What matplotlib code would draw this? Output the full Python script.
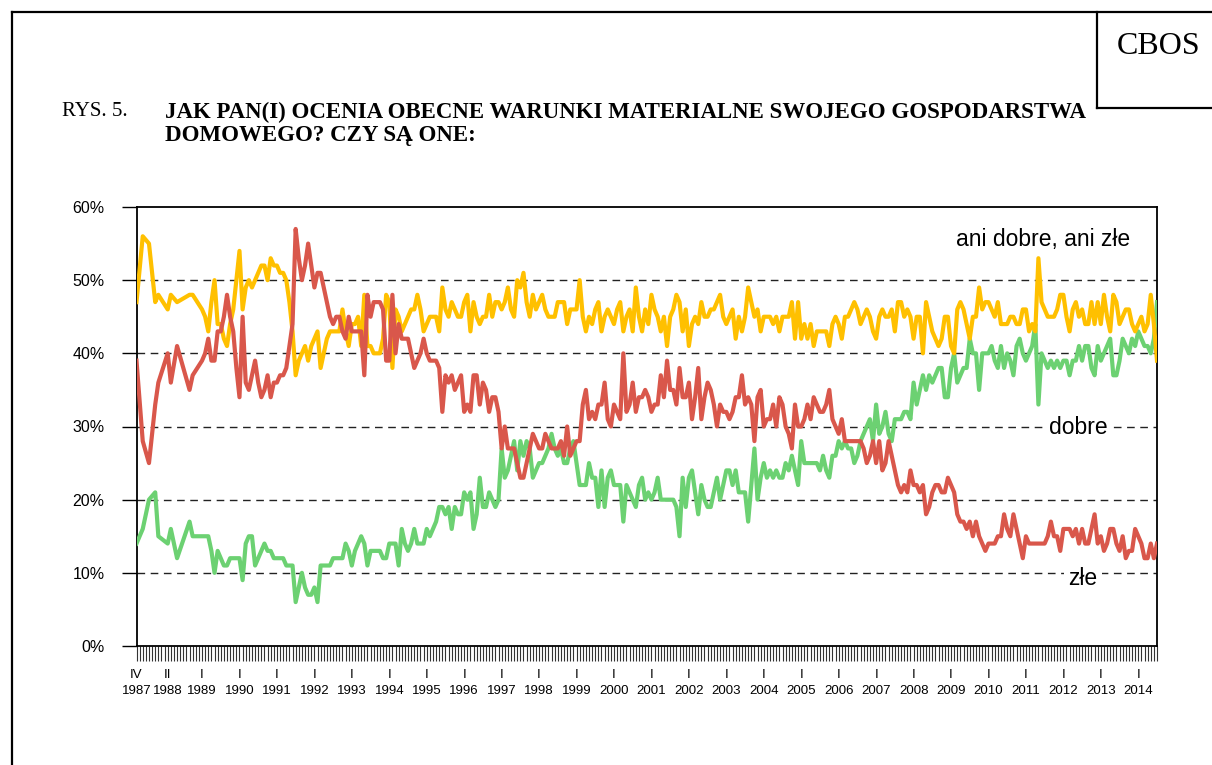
#!/usr/bin/env python3
"""
CBOS, Rys. 5: ocena warunkow materialnych gospodarstwa domowego, 1987-2014
"""

import matplotlib.pyplot as plt
from matplotlib.lines import Line2D
from matplotlib.ticker import FixedLocator, NullFormatter
from matplotlib import transforms

plt.rcParams['font.family'] = ['Liberation Sans', 'DejaVu Sans']

W, H = 1212, 765

# survey months, counted from April 1987 (irregular before 1989, then monthly)
months = [0, 2, 4, 6, 7, 10, 11, 13, 17, 18] + list(range(21, 328))

ani = [47, 56, 55, 47, 48, 46, 48, 47, 48, 48,
       46, 45, 43, 47, 50, 44, 44, 42, 41, 44, 46, 50, 54, 46, 49, 50, 49, 50, 51, 52, 52,
       50, 53, 52, 52, 51, 51, 50, 47, 43, 37,
       39, 40, 41, 39, 41, 42, 43, 38, 40, 42,
       43, 43, 43, 43, 46, 43, 41, 44, 44, 45,
       41, 48, 41, 41, 40, 40, 40, 42, 48, 47,
       38, 46, 45, 43, 44, 45, 46, 46, 48, 46,
       43, 44, 45, 45, 45, 43, 49, 46, 45, 47,
       46, 45, 45, 47, 48, 43, 47, 45, 44, 45,
       45, 48, 45, 47, 47, 46, 47, 49, 46, 45,
       50, 49, 51, 47, 45, 48, 46, 47, 48, 46,
       45, 45, 45, 47, 47, 47, 44, 46, 46, 46,
       50, 45, 43, 45, 44, 46, 47, 43, 45, 46,
       45, 44, 46, 47, 43, 45, 46, 43, 49, 45,
       43, 46, 44, 48, 46, 45, 43, 45, 41, 45,
       46, 48, 47, 43, 46, 41, 44, 45, 44, 47,
       45, 45, 46, 46, 47, 48, 45, 44, 45, 46,
       42, 45, 43, 45, 49, 47, 45, 46, 43, 45,
       45, 45, 44, 45, 43, 45, 45, 45, 47, 42,
       47, 42, 44, 42, 44, 41, 43, 43, 43, 43,
       41, 44, 45, 44, 42, 45, 45, 46, 47, 46,
       44, 45, 46, 45, 43, 42, 45, 46, 45, 45,
       46, 43, 47, 47, 45, 46, 45, 42, 45, 45,
       40, 47, 45, 43, 42, 41, 42, 45, 45, 41,
       40, 46, 47, 46, 44, 42, 45, 45, 49, 46,
       47, 47, 46, 45, 47, 44, 44, 44, 45, 45,
       44, 44, 46, 46, 43, 44, 43, 53, 47, 46,
       45, 45, 45, 46, 48, 48, 45, 43, 46, 47,
       45, 46, 44, 44, 47, 44, 47, 44, 48, 45,
       43, 48, 47, 44, 45, 46, 46, 44, 43, 44,
       45, 43, 44, 48, 44, 39]

zle = [39, 28, 25, 33, 36, 40, 36, 41, 35, 37,
       39, 40, 42, 39, 39, 43, 43, 45, 48, 45, 43, 38, 34, 45, 36, 35, 37, 39, 36, 34, 35,
       37, 34, 36, 36, 37, 37, 38, 41, 44, 57,
       53, 50, 52, 55, 52, 49, 51, 51, 49, 47,
       45, 44, 45, 45, 43, 42, 45, 43, 43, 43,
       43, 37, 48, 45, 47, 47, 47, 46, 39, 39,
       48, 40, 44, 42, 42, 42, 40, 38, 39, 40,
       42, 40, 39, 39, 39, 38, 32, 37, 36, 37,
       35, 36, 37, 32, 33, 32, 37, 37, 33, 36,
       35, 32, 34, 34, 32, 27, 30, 27, 27, 27,
       25, 23, 23, 25, 27, 29, 28, 27, 27, 29,
       28, 27, 27, 27, 28, 26, 30, 26, 27, 28,
       28, 33, 35, 31, 32, 31, 33, 33, 36, 31,
       30, 33, 32, 31, 40, 32, 33, 36, 32, 34,
       34, 35, 34, 32, 33, 33, 37, 34, 39, 35,
       35, 33, 38, 34, 34, 36, 31, 34, 38, 31,
       34, 36, 35, 33, 30, 33, 32, 32, 31, 32,
       34, 34, 37, 33, 34, 33, 28, 34, 35, 30,
       31, 31, 33, 30, 34, 33, 30, 29, 27, 33,
       30, 30, 31, 33, 31, 34, 33, 32, 32, 33,
       35, 31, 30, 29, 31, 28, 28, 28, 28, 28,
       28, 27, 25, 26, 28, 25, 28, 24, 25, 28,
       26, 24, 22, 21, 22, 21, 24, 22, 22, 21,
       22, 18, 19, 21, 22, 22, 21, 21, 23, 22,
       21, 18, 17, 17, 16, 17, 15, 17, 15, 14,
       13, 14, 14, 14, 15, 15, 18, 16, 15, 18,
       16, 14, 12, 15, 14, 14, 14, 14, 14, 14,
       15, 17, 15, 15, 13, 16, 16, 16, 15, 16,
       14, 16, 14, 14, 16, 18, 14, 15, 13, 14,
       16, 16, 14, 13, 15, 12, 13, 13, 16, 15,
       14, 12, 12, 14, 12, 14]

dobre = [14, 16, 20, 21, 15, 14, 16, 12, 17, 15,
         15, 15, 15, 13, 10, 13, 12, 11, 11, 12, 12, 12, 12, 9, 14, 15, 15, 11, 12, 13, 14,
         13, 13, 12, 12, 12, 12, 11, 11, 11, 6,
         8, 10, 8, 7, 7, 8, 6, 11, 11, 11,
         11, 12, 12, 12, 12, 14, 13, 11, 13, 14,
         15, 14, 11, 13, 13, 13, 13, 12, 12, 14,
         14, 14, 11, 16, 14, 13, 14, 16, 14, 14,
         14, 16, 15, 16, 17, 19, 19, 18, 19, 16,
         19, 18, 18, 21, 20, 21, 16, 18, 23, 19,
         19, 21, 20, 19, 20, 27, 23, 24, 26, 28,
         24, 28, 26, 28, 27, 23, 24, 25, 25, 26,
         27, 29, 27, 26, 27, 25, 25, 27, 28, 25,
         22, 22, 22, 25, 23, 23, 19, 24, 19, 23,
         24, 22, 22, 22, 17, 22, 21, 20, 19, 22,
         23, 20, 21, 20, 21, 23, 20, 20, 20, 20,
         20, 19, 15, 23, 19, 23, 24, 21, 18, 22,
         20, 19, 19, 21, 23, 20, 22, 24, 24, 22,
         24, 21, 21, 21, 17, 22, 27, 20, 23, 25,
         23, 24, 23, 24, 23, 23, 25, 24, 26, 24,
         22, 28, 25, 25, 25, 25, 25, 24, 26, 24,
         23, 26, 26, 28, 27, 28, 27, 27, 25, 26,
         28, 29, 30, 31, 28, 33, 29, 30, 32, 29,
         28, 31, 31, 31, 32, 32, 31, 36, 33, 35,
         37, 35, 37, 36, 37, 38, 38, 34, 34, 38,
         40, 36, 37, 38, 38, 42, 40, 40, 35, 40,
         40, 40, 41, 39, 38, 41, 38, 40, 39, 37,
         41, 42, 40, 39, 40, 41, 44, 33, 40, 39,
         38, 39, 38, 39, 38, 39, 39, 37, 39, 39,
         41, 39, 41, 41, 38, 37, 41, 39, 40, 41,
         42, 37, 37, 39, 42, 41, 40, 42, 41, 43,
         42, 41, 41, 40, 42, 47]

# axis labels: month (roman) over year
label_months = [0, 10] + [21 + 12 * k for k in range(26)]
label_roman = ['IV', 'II'] + ['I'] * 26
label_years = [str(y) for y in range(1987, 2015)]

yticks = [0, 10, 20, 30, 40, 50, 60]

col_ani = '#FFC000'
col_zle = '#D9574B'
col_dobre = '#6CD172'

fig = plt.figure(figsize=(W / 100, H / 100), dpi=100)
ax = fig.add_axes([136.5 / W, 1 - 646 / H, (1157 - 136.5) / W, (646 - 207) / H])

ax.plot(months, dobre, color=col_dobre, lw=3.0, solid_joinstyle='round', zorder=3)
ax.plot(months, ani, color=col_ani, lw=3.0, solid_joinstyle='round', zorder=3)
ax.plot(months, zle, color=col_zle, lw=3.0, solid_joinstyle='round', zorder=3)

ax.set_xlim(0, 327)
ax.set_ylim(0, 60)

# dashed gridlines
for v in yticks[1:-1]:
    ax.axhline(v, color='#222222', lw=1, linestyle=(0, (5.5, 4)), zorder=1)

ax.set_yticks(yticks)
ax.set_yticklabels([f'{v}%' for v in yticks], fontsize=11.5)
ax.tick_params(axis='y', direction='out', length=11, width=1, pad=12)

ax.xaxis.set_major_locator(FixedLocator(list(range(0, 328))))
ax.xaxis.set_major_formatter(NullFormatter())
ax.tick_params(axis='x', direction='out', length=10.5, width=0.8, color='#333333')

for s in ax.spines.values():
    s.set_linewidth(1.3)

trans = transforms.blended_transform_factory(ax.transData, fig.transFigure)
for m, r, y in zip(label_months, label_roman, label_years):
    ax.text(m, 1 - 675 / H, r, transform=trans, fontsize=9.5, ha='center', va='center')
    ax.text(m, 1 - 691 / H, y, transform=trans, fontsize=9.5, ha='center', va='center')

# series labels
ax.text(290.5, 55.5, 'ani dobre, ani złe', fontsize=16.5, ha='center', va='center')
ax.text(301.7, 29.8, 'dobre', fontsize=16.5, ha='center', va='center', zorder=4,
        bbox=dict(facecolor='white', edgecolor='none', pad=3))
ax.text(303.3, 9.2, 'złe', fontsize=16.5, ha='center', va='center', zorder=4,
        bbox=dict(facecolor='white', edgecolor='none', pad=3))


# page frame and CBOS box
def px_line(x0, y0, x1, y1):
    fig.add_artist(Line2D([x0 / W, x1 / W], [1 - y0 / H, 1 - y1 / H],
                          color='black', lw=1.6, transform=fig.transFigure))


px_line(12, 12, W, 12)
px_line(12, 12, 12, H)
px_line(1097, 12, 1097, 108)
px_line(1097, 108, W, 108)

fig.text(1159 / W, 1 - 47 / H, 'CBOS', family='Liberation Serif', fontsize=23,
         ha='center', va='center')

fig.text(62 / W, 1 - 112 / H, 'RYS. 5.', family='Liberation Serif', fontsize=15,
         ha='left', va='center')
fig.text(165 / W, 1 - 112 / H, 'JAK PAN(I) OCENIA OBECNE WARUNKI MATERIALNE SWOJEGO GOSPODARSTWA',
         family='Liberation Serif', fontsize=16.5, fontweight='bold', ha='left', va='center')
fig.text(165 / W, 1 - 136 / H, 'DOMOWEGO? CZY SĄ ONE:',
         family='Liberation Serif', fontsize=16.5, fontweight='bold', ha='left', va='center')

plt.savefig('out.png', dpi=100)
plt.close()
